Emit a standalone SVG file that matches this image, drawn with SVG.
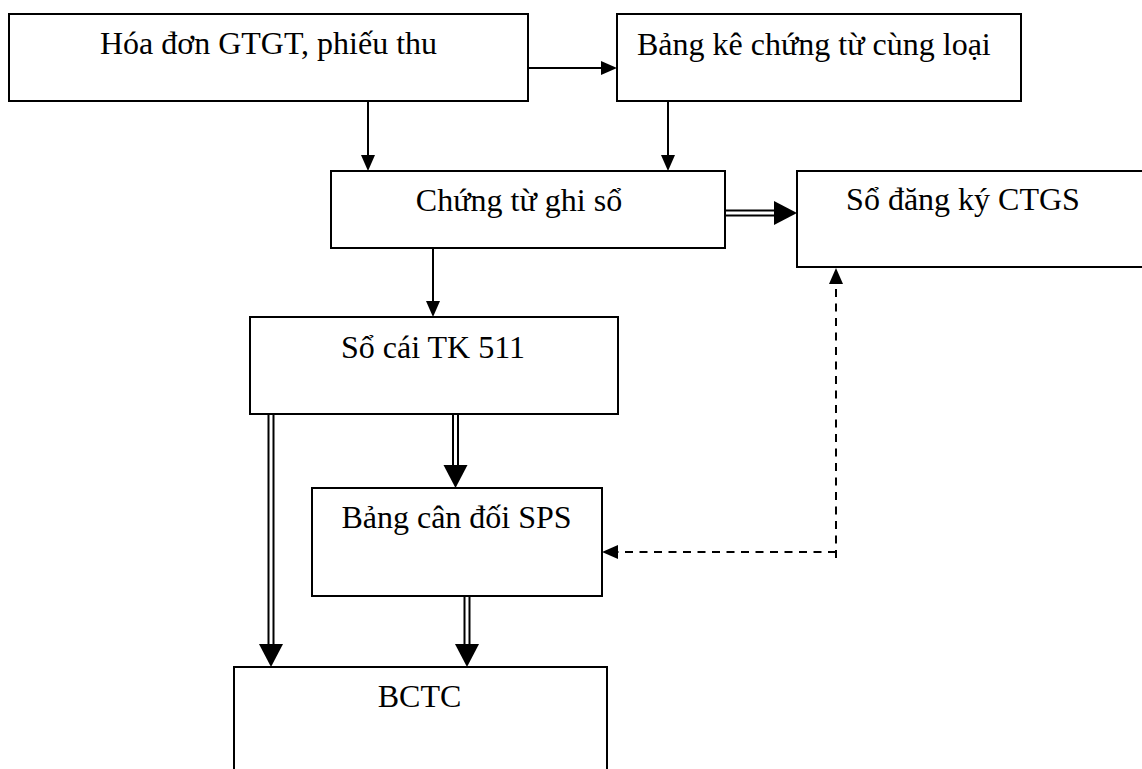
<svg xmlns="http://www.w3.org/2000/svg" width="1142" height="769" viewBox="0 0 1142 769">
  <style>
    .box { fill: #ffffff; stroke: #000000; stroke-width: 2; }
    .label { font-family: "Liberation Serif", "Times New Roman", serif; font-size: 32px; fill: #000000; text-anchor: middle; }
    .label-left { text-anchor: start; }
    .single { fill: none; stroke: #000000; stroke-width: 2; marker-end: url(#head-small); }
    .dbl-outer { fill: none; stroke: #000000; stroke-width: 7; marker-end: url(#head-large); }
    .dbl-inner { fill: none; stroke: #ffffff; stroke-width: 3; }
    .dashed-arrow { fill: none; stroke: #000000; stroke-width: 2; stroke-dasharray: 8 6.5; marker-end: url(#head-small); }
  </style>
  <defs>
    <marker id="head-small" markerUnits="userSpaceOnUse" viewBox="0 -8 17 16" refX="0" refY="0" markerWidth="17" markerHeight="16" orient="auto" overflow="visible">
      <path d="M0,-7 L16,0 L0,7 z" fill="#000000"/>
    </marker>
    <marker id="head-large" markerUnits="userSpaceOnUse" viewBox="0 -13 24 26" refX="0" refY="0" markerWidth="24" markerHeight="26" orient="auto" overflow="visible">
      <path d="M0,-12 L23,0 L0,12 z" fill="#000000"/>
    </marker>
  </defs>

  <!-- connectors -->
  <g id="connectors">
    <!-- single-line flows -->
    <path class="single" d="M528,68 L601,68"/>
    <path class="single" d="M368,101 L368,155"/>
    <path class="single" d="M668,101 L668,155"/>
    <path class="single" d="M433,248 L433,301"/>

    <!-- double-line flows -->
    <path class="dbl-outer" d="M725,213 L774,213"/>
    <path class="dbl-inner" d="M725,213 L774,213"/>
    <path class="dbl-outer" d="M271,414 L271,644"/>
    <path class="dbl-inner" d="M271,414 L271,644"/>
    <path class="dbl-outer" d="M455.5,414 L455.5,465"/>
    <path class="dbl-inner" d="M455.5,414 L455.5,465"/>
    <path class="dbl-outer" d="M467,596 L467,644"/>
    <path class="dbl-inner" d="M467,596 L467,644"/>

    <!-- dashed cross-check flows -->
    <path class="dashed-arrow" d="M836,558 L836,284"/>
    <path class="dashed-arrow" d="M836,552 L618,552"/>
  </g>

  <g id="hoa-don">
    <rect class="box" x="9" y="14" width="519" height="87"/>
    <text class="label" x="268.5" y="54">Hóa đơn GTGT, phiếu thu</text>
  </g>

  <g id="bang-ke">
    <rect class="box" x="617" y="14" width="404" height="87"/>
    <text class="label label-left" x="637" y="55">Bảng kê chứng từ cùng loại</text>
  </g>

  <g id="chung-tu-ghi-so">
    <rect class="box" x="331" y="171" width="394" height="77"/>
    <text class="label" x="519" y="211">Chứng từ ghi sổ</text>
  </g>

  <g id="so-dang-ky">
    <rect class="box" x="797" y="171" width="400" height="96"/>
    <text class="label" x="963" y="210">Sổ đăng ký CTGS</text>
  </g>

  <g id="so-cai">
    <rect class="box" x="250" y="317" width="368" height="97"/>
    <text class="label" x="433" y="358">Sổ cái TK 511</text>
  </g>

  <g id="bang-can-doi">
    <rect class="box" x="312" y="488" width="290" height="108"/>
    <text class="label" x="456.5" y="528">Bảng cân đối SPS</text>
  </g>

  <g id="bctc">
    <rect class="box" x="234" y="667" width="373" height="120"/>
    <text class="label" x="419.5" y="707">BCTC</text>
  </g>
</svg>
